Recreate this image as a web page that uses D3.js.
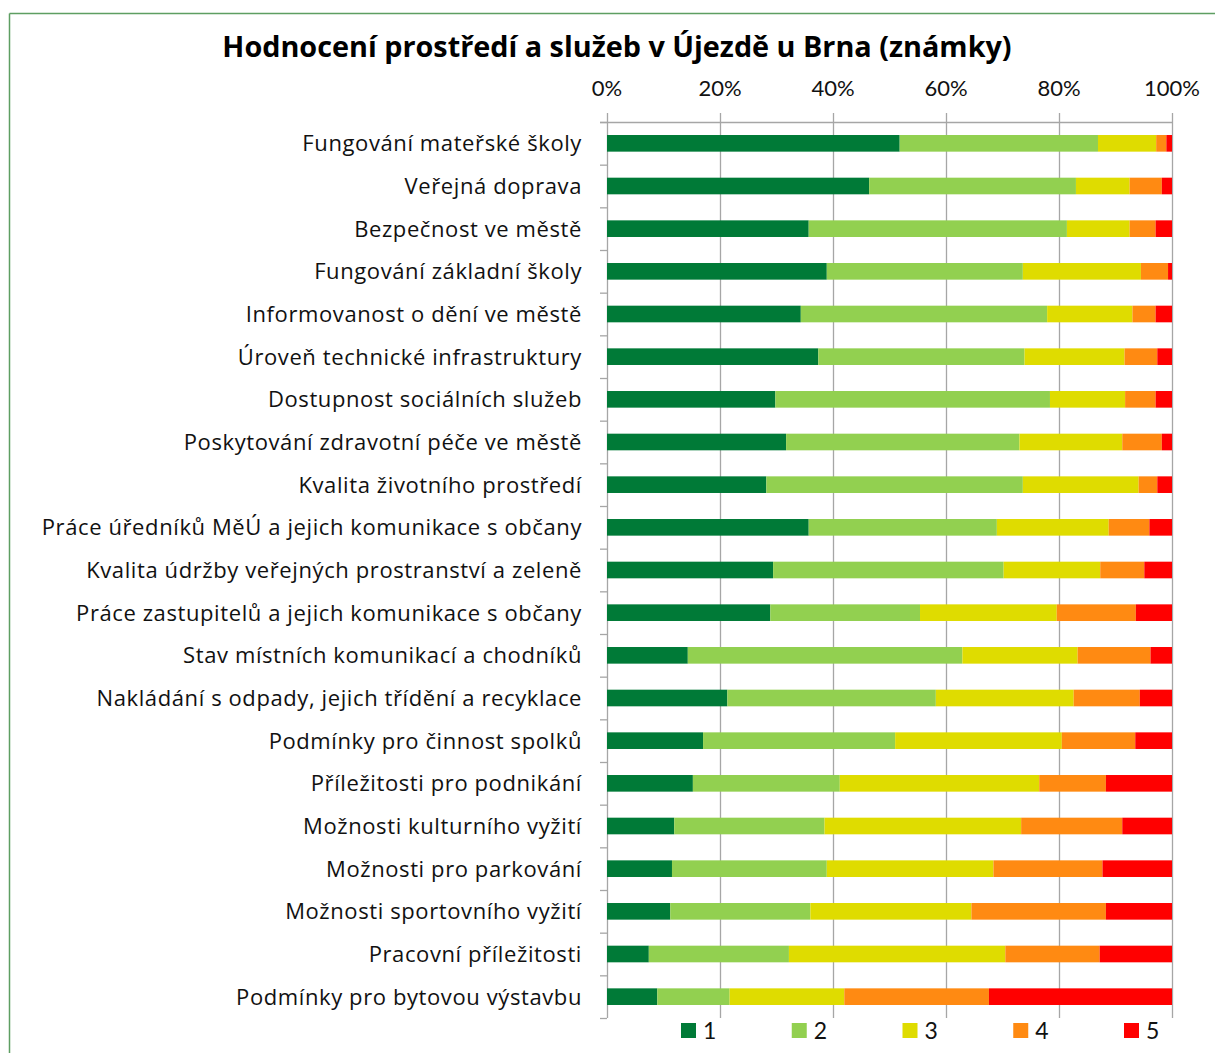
<!DOCTYPE html>
<html lang="cs">
<head>
<meta charset="UTF-8">
<title>Hodnocení prostředí a služeb v Újezdě u Brna</title>
<script src="https://d3js.org/d3.v7.min.js"></script>
<style>
    body { margin: 0; background: #fff; }
    .title { font-family: "Open Sans", sans-serif; font-weight: bold; font-size: 28.8px; fill: #000; }
    .tick-label { font-family: Lato, sans-serif; font-size: 22px; fill: #111; }
    .cat-label { font-family: "Open Sans", sans-serif; font-size: 22px; letter-spacing: 0.6px; fill: #111; }
    .legend-label { font-family: Lato, sans-serif; font-size: 23px; fill: #111; }
</style>
</head>
<body>
<svg id="chart" width="1215" height="1053"></svg>
<script>
// categories, top to bottom
const categories = [
    "Fungování mateřské školy",
    "Veřejná doprava",
    "Bezpečnost ve městě",
    "Fungování základní školy",
    "Informovanost o dění ve městě",
    "Úroveň technické infrastruktury",
    "Dostupnost sociálních služeb",
    "Poskytování zdravotní péče ve městě",
    "Kvalita životního prostředí",
    "Práce úředníků MěÚ a jejich komunikace s občany",
    "Kvalita údržby veřejných prostranství a zeleně",
    "Práce zastupitelů a jejich komunikace s občany",
    "Stav místních komunikací a chodníků",
    "Nakládání s odpady, jejich třídění a recyklace",
    "Podmínky pro činnost spolků",
    "Příležitosti pro podnikání",
    "Možnosti kulturního vyžití",
    "Možnosti pro parkování",
    "Možnosti sportovního vyžití",
    "Pracovní příležitosti",
    "Podmínky pro bytovou výstavbu"
];

// share of each grade (%)
const grade1 = [51.8, 46.4, 35.7, 38.9, 34.3, 37.4, 29.8, 31.7, 28.2, 35.7, 29.4, 28.9, 14.3, 21.3, 17.0, 15.2, 11.9, 11.5, 11.2, 7.4, 8.9];
const grade2 = [35.1, 36.6, 45.7, 34.7, 43.6, 36.5, 48.6, 41.3, 45.4, 33.3, 40.8, 26.5, 48.6, 36.9, 34.0, 26.0, 26.6, 27.4, 24.8, 24.8, 12.8];
const grade3 = [10.3, 9.5, 11.1, 20.9, 15.1, 17.7, 13.3, 18.2, 20.5, 19.8, 17.1, 24.2, 20.4, 24.4, 29.5, 35.3, 34.8, 29.5, 28.5, 38.3, 20.3];
const grade4 = [1.8, 5.7, 4.6, 4.8, 4.1, 5.8, 5.4, 7.0, 3.3, 7.2, 7.8, 14.0, 12.9, 11.7, 13.0, 11.8, 17.9, 19.3, 23.8, 16.7, 25.6];
const grade5 = [1.0, 1.8, 2.9, 0.7, 2.9, 2.6, 2.9, 1.8, 2.6, 4.0, 4.9, 6.4, 3.8, 5.7, 6.5, 11.7, 8.8, 12.3, 11.7, 12.8, 32.4];

const grades = ["1", "2", "3", "4", "5"];
const gradeColors = ["#007a37", "#92d050", "#dfdc00", "#ff8a12", "#ff0000"];
const xTicks = [0, 20, 40, 60, 80, 100];

const svg = d3.select("#chart");

// green frame (top and left edges visible)
svg.append("line").attr("x1", 9.5).attr("x2", 1215).attr("y1", 13.5).attr("y2", 13.5)
    .attr("stroke", "#5e9e62").attr("stroke-width", 1.5);
svg.append("line").attr("x1", 9.5).attr("x2", 9.5).attr("y1", 13.5).attr("y2", 1053)
    .attr("stroke", "#5e9e62").attr("stroke-width", 1.5);

const plotTop = 122, plotBottom = 1018;

const x = d3.scaleLinear().domain([0, 100]).range([607, 1172]);
const y = d3.scaleBand().domain(categories).range([plotTop, plotBottom])
    .paddingInner(0.61).paddingOuter(0.305);
const color = d3.scaleOrdinal().domain(grades).range(gradeColors);

svg.append("text")
    .attr("class", "title")
    .attr("x", 617)
    .attr("y", 57)
    .attr("text-anchor", "middle")
    .text("Hodnocení prostředí a služeb v Újezdě u Brna (známky)");

// gridlines
svg.append("g").selectAll("line")
    .data(xTicks)
    .enter().append("line")
    .attr("x1", d => x(d) + 0.5).attr("x2", d => x(d) + 0.5)
    .attr("y1", plotTop - 9).attr("y2", plotBottom)
    .attr("stroke", "#a6a6a6").attr("stroke-width", 1.3);

// top axis line
svg.append("line")
    .attr("x1", x(0) - 7).attr("x2", x(100))
    .attr("y1", plotTop + 0.5).attr("y2", plotTop + 0.5)
    .attr("stroke", "#a6a6a6").attr("stroke-width", 1.3);

svg.append("g").selectAll("text")
    .data(xTicks)
    .enter().append("text")
    .attr("class", "tick-label")
    .attr("x", d => x(d))
    .attr("y", 96)
    .attr("text-anchor", "middle")
    .text(d => d + "%");

// category axis ticks at band boundaries
const boundaries = d3.range(categories.length + 1).map(i => plotTop + i * y.step());
svg.append("g").selectAll("line")
    .data(boundaries)
    .enter().append("line")
    .attr("x1", x(0) - 7).attr("x2", x(0))
    .attr("y1", d => d + 0.5).attr("y2", d => d + 0.5)
    .attr("stroke", "#a6a6a6").attr("stroke-width", 1.3);

const rows = categories.map((c, i) => ({
    category: c,
    "1": grade1[i], "2": grade2[i], "3": grade3[i], "4": grade4[i], "5": grade5[i]
}));

const stacked = d3.stack().keys(grades)(rows);

svg.append("g").selectAll("g")
    .data(stacked)
    .enter().append("g")
    .attr("fill", d => color(d.key))
    .selectAll("rect")
    .data(d => d)
    .enter().append("rect")
    .attr("x", d => x(d[0]))
    .attr("width", d => Math.max(0, x(Math.min(100, d[1])) - x(d[0])))
    .attr("y", d => y(d.data.category))
    .attr("height", y.bandwidth());

// category labels
svg.append("g").selectAll("text")
    .data(categories)
    .enter().append("text")
    .attr("class", "cat-label")
    .attr("x", 582)
    .attr("y", d => y(d) + y.bandwidth() / 2)
    .attr("dy", "0.36em")
    .attr("text-anchor", "end")
    .text(d => d);

// legend
const legendX = d3.scaleLinear().domain([0, grades.length - 1]).range([681, 1124]);
const legend = svg.append("g").selectAll("g")
    .data(grades)
    .enter().append("g")
    .attr("transform", (d, i) => `translate(${legendX(i)}, 1023)`);

legend.append("rect")
    .attr("width", 15).attr("height", 15)
    .attr("fill", d => color(d));

legend.append("text")
    .attr("class", "legend-label")
    .attr("x", 22)
    .attr("y", 16)
    .text(d => d);
</script>
</body>
</html>
